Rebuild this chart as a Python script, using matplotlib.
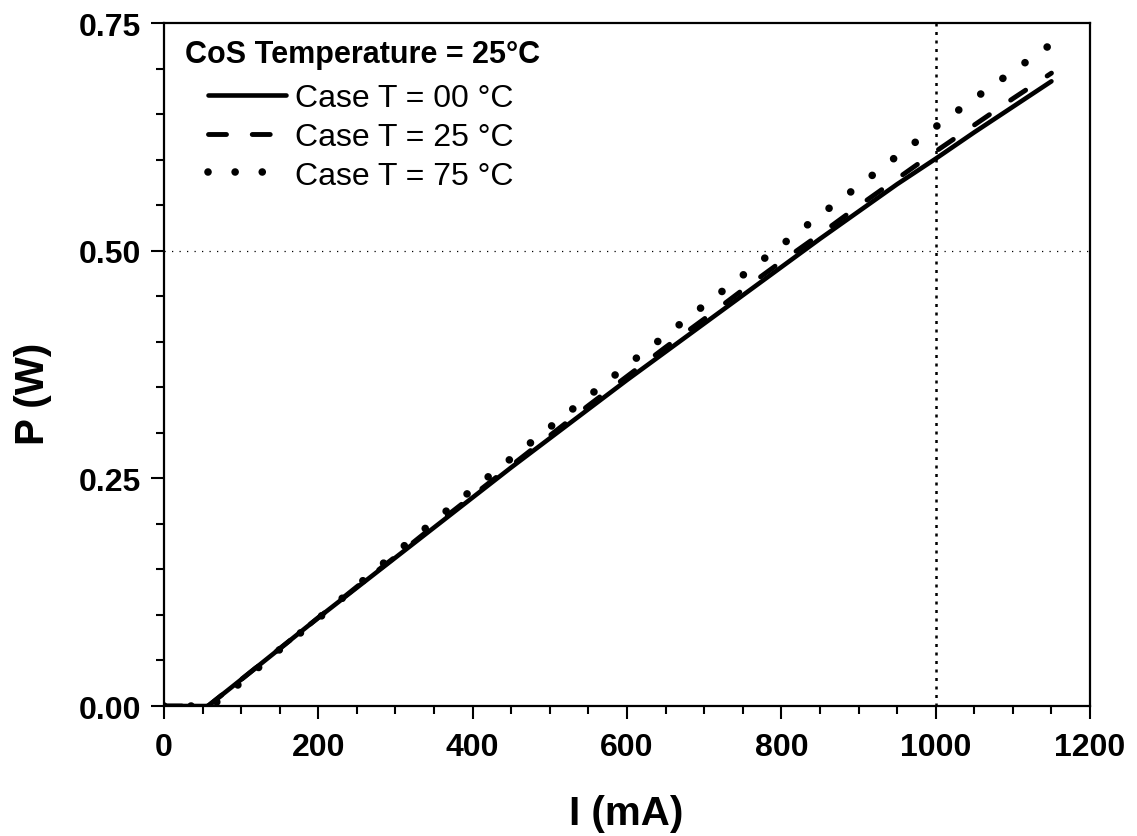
import numpy as np
import matplotlib
matplotlib.use("Agg")
import matplotlib.pyplot as plt

plt.rcParams['font.family'] = ['Liberation Sans', 'DejaVu Sans']

# laser output power vs drive current, three case temperatures
current_00 = [0, 57, 100, 150, 200, 250, 300, 350, 400, 450, 500, 550, 600,
              650, 700, 750, 800, 850, 900, 950, 1000, 1050, 1100, 1150]
power_00 = [0, 0, 0.029, 0.063, 0.097, 0.130, 0.163, 0.196, 0.229, 0.262,
            0.294, 0.326, 0.358, 0.389, 0.420, 0.451, 0.482, 0.513, 0.543,
            0.573, 0.601, 0.630, 0.658, 0.686]

current_25 = [0, 57, 100, 150, 200, 250, 300, 350, 400, 450, 500, 550, 600,
              650, 700, 750, 800, 850, 900, 950, 1000, 1050, 1100, 1150]
power_25 = [0, 0, 0.029, 0.063, 0.097, 0.131, 0.164, 0.198, 0.231, 0.264,
            0.297, 0.330, 0.362, 0.394, 0.425, 0.457, 0.488, 0.518, 0.549,
            0.579, 0.609, 0.638, 0.667, 0.695]

current_75 = [0, 62, 100, 150, 200, 250, 300, 350, 400, 450, 500, 550, 600,
              650, 700, 750, 800, 850, 900, 950, 1000, 1050, 1100, 1150]
power_75 = [0, 0, 0.026, 0.062, 0.096, 0.132, 0.168, 0.203, 0.238, 0.272,
            0.306, 0.340, 0.374, 0.407, 0.440, 0.473, 0.506, 0.539, 0.571,
            0.604, 0.636, 0.667, 0.697, 0.727]

labels = ['Case T = 00 °C', 'Case T = 25 °C', 'Case T = 75 °C']
legend_title = 'CoS Temperature = 25°C'

fig = plt.figure(figsize=(11.37, 8.37), dpi=100)
ax = fig.add_axes([0.1442, 0.1553, 0.8145, 0.8160])

ax.axhline(0.5, color='black', lw=0.9, ls=(0, (1, 5)), zorder=1)
ax.axvline(1000, color='black', lw=1.8, ls=(0, (1.2, 2.2)), zorder=1)

ax.plot(current_00, power_00, color='black', lw=3.3, label=labels[0],
        solid_capstyle='round')
ax.plot(current_25, power_25, color='black', lw=3.5, label=labels[1],
        ls=(0, (3.7, 5.3)), dash_capstyle='round')
ax.plot(current_75, power_75, color='black', lw=5.5, label=labels[2],
        ls=(0, (0.001, 3.55)), dash_capstyle='round')

ax.set_xlim(0, 1200)
ax.set_ylim(0, 0.75)
ax.set_xticks([0, 200, 400, 600, 800, 1000, 1200])
ax.set_xticks(np.arange(0, 1201, 50), minor=True)
ax.set_yticks([0, 0.25, 0.5, 0.75])
ax.set_yticks(np.arange(0, 0.751, 0.05), minor=True)
ax.set_yticklabels(['0.00', '0.25', '0.50', '0.75'])

for s in ax.spines.values():
    s.set_linewidth(1.6)
ax.tick_params(which='major', direction='out', length=9.5, width=1.5,
               labelsize=23, pad=7)
ax.tick_params(which='minor', direction='out', length=5.5, width=1.5)
ax.tick_params(axis='x', which='major', pad=9)
for t in ax.get_xticklabels() + ax.get_yticklabels():
    t.set_fontweight('bold')

fig.text(0.5507, 0.028, 'I (mA)', fontsize=29, fontweight='bold',
         ha='center', va='center')
fig.text(0.029, 0.53, 'P (W)', fontsize=29, fontweight='bold',
         ha='center', va='center', rotation=90)

ax.text(0.0227, 0.955, legend_title, transform=ax.transAxes, fontsize=22,
        fontweight='bold', va='center', ha='left')
ax.legend(loc='upper left', bbox_to_anchor=(0.0475, 0.9125), frameon=False,
          fontsize=23, handlelength=2.45, handletextpad=0.28,
          labelspacing=0.28, borderaxespad=0, borderpad=0)

fig.savefig('out.png', dpi=100)
